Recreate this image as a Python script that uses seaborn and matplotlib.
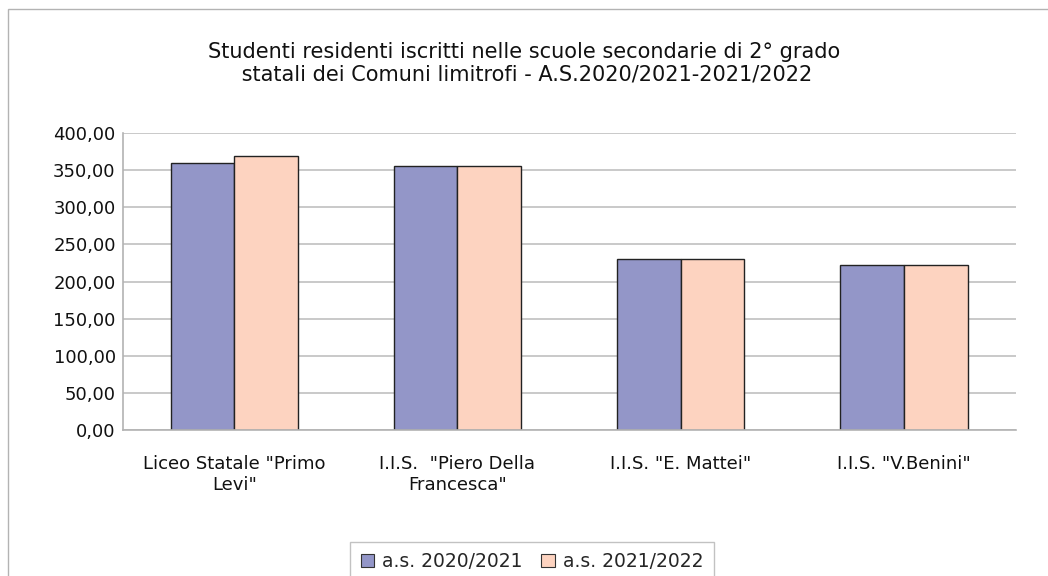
import matplotlib
matplotlib.use("Agg")
import matplotlib.pyplot as plt
import seaborn as sns
import pandas as pd
from matplotlib.patches import Rectangle

categories = ['Liceo Statale "Primo\nLevi"', 'I.I.S.  "Piero Della\nFrancesca"', 'I.I.S. "E. Mattei"', 'I.I.S. "V.Benini"']
series_names = ["a.s. 2020/2021", "a.s. 2021/2022"]
values_2020 = [360, 356, 231, 222]
values_2021 = [369, 356, 231, 222]
colors = ["#9396C8", "#FDD3C0"]

df = pd.DataFrame({
    "cat": categories * 2,
    "serie": [series_names[0]] * 4 + [series_names[1]] * 4,
    "val": values_2020 + values_2021,
})

sns.set_theme(style="white")
plt.rcParams['font.family'] = ['DejaVu Sans']

fig = plt.figure(figsize=(10.48, 5.76), dpi=100)
ax = fig.add_axes([0.117, 0.2535, 0.852, 0.5155])
sns.barplot(data=df, x="cat", y="val", hue="serie", palette=colors, ax=ax,
            width=0.57, edgecolor="#222222", linewidth=1.0, saturation=1, legend=True)

ax.set_ylim(0, 400)
ax.set_yticks(range(0, 401, 50))
ax.set_yticklabels([f"{v},00" for v in range(0, 401, 50)], fontsize=13, color="#111111")
ax.tick_params(axis="x", labelsize=13, colors="#111111", length=0, pad=18)
ax.tick_params(axis="y", length=0, pad=5)
for lbl in ax.get_xticklabels():
    lbl.set_linespacing(1.2)
ax.set_xlabel("")
ax.set_ylabel("")
ax.yaxis.grid(True, color="#C0C0C0", linewidth=1.2)
ax.set_axisbelow(True)
for s in ["top", "right"]:
    ax.spines[s].set_visible(False)
for s in ["left", "bottom"]:
    ax.spines[s].set_color("#B3B3B3")
    ax.spines[s].set_linewidth(1.2)

fig.text(0.5, 0.89, "Studenti residenti iscritti nelle scuole secondarie di 2° grado\n statali dei Comuni limitrofi - A.S.2020/2021-2021/2022",
         ha="center", va="center", fontsize=15, color="#111111", linespacing=1.2)

leg = ax.legend(loc="upper center", bbox_to_anchor=(532 / 1048, 1 - 542 / 576), bbox_transform=fig.transFigure,
                ncol=2, frameon=True, fontsize=13.5, handlelength=0.7, handleheight=0.7,
                handletextpad=0.45, columnspacing=1.0, borderpad=0.55, borderaxespad=0,
                fancybox=False)
leg.get_frame().set_edgecolor("#B3B3B3")
leg.get_frame().set_linewidth(1.0)
for h in leg.legend_handles:
    h.set_edgecolor("#333333")
    h.set_linewidth(0.8)

fig.patches.append(Rectangle((8 / 1048, -0.05), 1.2, 1 - 9 / 576 + 0.05, transform=fig.transFigure,
                             fill=False, edgecolor="#B3B3B3", linewidth=1.0))

fig.savefig("out.png", dpi=100)
